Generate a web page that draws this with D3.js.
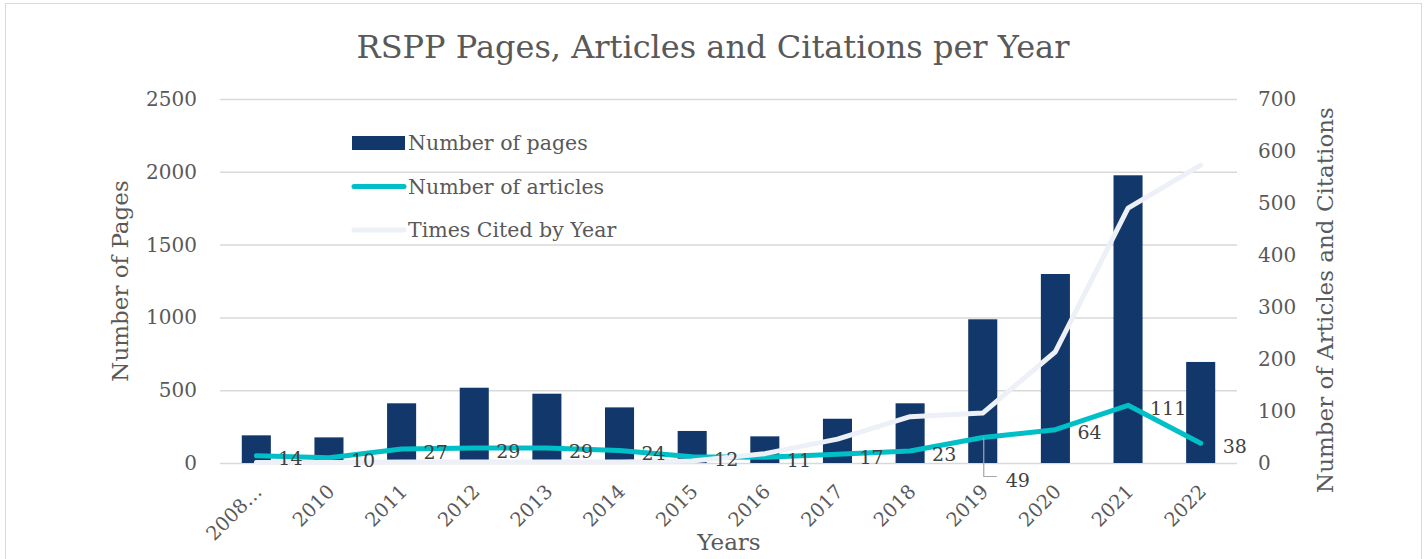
<html>
<script src="https://d3js.org/d3.v7.min.js"></script>
<style>
  body { margin: 0; background: #fff; }
  text { font-family: "DejaVu Serif", serif; }
</style>
<body onload="init()">
<svg width="1426" height="559"></svg>
<script>
var years = ["2008\u2026", "2010", "2011", "2012", "2013", "2014", "2015", "2016", "2017", "2018", "2019", "2020", "2021", "2022"];
var pages = [190, 176, 410, 517, 476, 382, 220, 183, 304, 410, 987, 1298, 1976, 694];
var articles = [14, 10, 27, 29, 29, 24, 12, 11, 17, 23, 49, 64, 111, 38];
var cited = [1, 1, 2, 2, 2, 2, 4, 18, 46, 89, 96, 214, 490, 573];
var pageTicks = [0, 500, 1000, 1500, 2000, 2500];
var countTicks = [0, 100, 200, 300, 400, 500, 600, 700];

function init() {
  var svg = d3.select("svg");
  var left = 220, right = 1237, top = 99, bottom = 463;

  svg.append("rect")
    .attr("x", 5.5).attr("y", 3.5).attr("width", 1416).attr("height", 570)
    .attr("fill", "none").attr("stroke", "#d9d9d9");

  var x = d3.scaleBand().domain(years).range([left, right])
    .paddingInner(0.6).paddingOuter(0.3);
  var yL = d3.scaleLinear().domain([0, 2500]).range([bottom, top]);
  var yR = d3.scaleLinear().domain([0, 700]).range([bottom, top]);
  var cx = function (i) { return x(years[i]) + x.bandwidth() / 2; };

  // grid + left axis
  var gl = svg.append("g").attr("transform", "translate(" + left + ",0)")
    .call(d3.axisLeft(yL).tickValues(pageTicks).tickFormat(d3.format("d"))
      .tickSize(-(right - left)).tickPadding(23));
  gl.select(".domain").remove();
  gl.selectAll("line").attr("stroke", "#d9d9d9").attr("stroke-width", 1.5);
  gl.selectAll("text").attr("fill", "#595959").style("font-size", "20px");

  var gr = svg.append("g").attr("transform", "translate(" + right + ",0)")
    .call(d3.axisRight(yR).tickValues(countTicks).tickFormat(d3.format("d"))
      .tickSize(0).tickPadding(21));
  gr.select(".domain").remove();
  gr.selectAll("text").attr("fill", "#595959").style("font-size", "20px");

  // bars
  svg.append("g").selectAll("rect").data(pages).enter().append("rect")
    .attr("x", function (d, i) { return x(years[i]); })
    .attr("width", x.bandwidth())
    .attr("y", function (d) { return yL(d); })
    .attr("height", function (d) { return yL(0) - yL(d); })
    .attr("fill", "#12376a");

  // lines
  var lineR = d3.line().x(function (d, i) { return cx(i); }).y(function (d) { return yR(d); });
  svg.append("path").datum(articles).attr("d", lineR)
    .attr("fill", "none").attr("stroke", "#00bfc6").attr("stroke-width", 5)
    .attr("stroke-linejoin", "round").attr("stroke-linecap", "round");
  svg.append("path").datum(cited).attr("d", lineR)
    .attr("fill", "none").attr("stroke", "#edf0f6").attr("stroke-width", 5)
    .attr("stroke-linejoin", "round").attr("stroke-linecap", "round");

  // x axis
  var gx = svg.append("g").attr("transform", "translate(0," + bottom + ")")
    .call(d3.axisBottom(x).tickSize(0).tickPadding(0));
  gx.select(".domain").remove();
  gx.selectAll("text")
    .attr("fill", "#595959").style("font-size", "19.5px")
    .attr("text-anchor", "end").attr("y", 0).attr("dy", "0.35em")
    .attr("transform", "translate(2,25) rotate(-45)");

  // data labels for articles
  var lab = svg.append("g");
  articles.forEach(function (d, i) {
    var px = cx(i), py = yR(d);
    var dx = 22, dy = 3;
    if (d === 49) {
      dx = 23; dy = 43;
      lab.append("path")
        .attr("d", "M" + (px + 1) + "," + py + "V" + (py + 39) + "H" + (px + 14))
        .attr("fill", "none").attr("stroke", "#a6a6a6").attr("stroke-width", 1.2);
    }
    lab.append("text").attr("x", px + dx).attr("y", py + dy).attr("dy", "0.35em")
      .attr("fill", "#404040").style("font-size", "19px").text(d);
  });

  // titles
  svg.append("text").attr("x", 713).attr("y", 58).attr("text-anchor", "middle")
    .attr("fill", "#595959").style("font-size", "32px")
    .text("RSPP Pages, Articles and Citations per Year");
  svg.append("text").attr("transform", "translate(128,281) rotate(-90)")
    .attr("text-anchor", "middle").attr("fill", "#595959").style("font-size", "23px")
    .text("Number of Pages");
  svg.append("text").attr("transform", "translate(1333,300) rotate(-90)")
    .attr("text-anchor", "middle").attr("fill", "#595959").style("font-size", "23px")
    .text("Number of Articles and Citations");
  svg.append("text").attr("x", 729).attr("y", 550).attr("text-anchor", "middle")
    .attr("fill", "#595959").style("font-size", "23px").text("Years");

  // legend
  var legend = [
    { name: "Number of pages", type: "bar", color: "#12376a" },
    { name: "Number of articles", type: "line", color: "#00bfc6" },
    { name: "Times Cited by Year", type: "line", color: "#edf0f6" }
  ];
  var lg = svg.append("g").attr("transform", "translate(352,143)");
  legend.forEach(function (d, i) {
    var row = lg.append("g").attr("transform", "translate(0," + (i * 43.5) + ")");
    if (d.type === "bar") {
      row.append("rect").attr("x", 0).attr("y", -7).attr("width", 53).attr("height", 14).attr("fill", d.color);
    } else {
      row.append("line").attr("x1", 2).attr("x2", 52).attr("y1", 0).attr("y2", 0)
        .attr("stroke", d.color).attr("stroke-width", 5).attr("stroke-linecap", "round");
    }
    row.append("text").attr("x", 56).attr("y", 0).attr("dy", "0.35em")
      .attr("fill", "#595959").style("font-size", "20.5px").text(d.name);
  });
}
</script>
</body>
</html>
